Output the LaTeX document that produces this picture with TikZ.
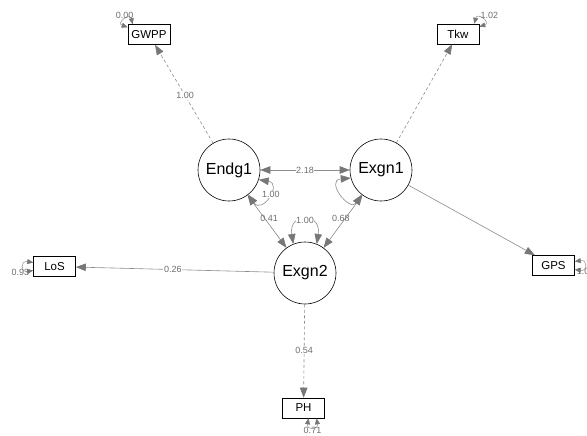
\documentclass[tikz,border=0pt]{standalone}
\usepackage{fontspec}
\setmainfont{Liberation Sans}
\usetikzlibrary{arrows.meta}
\definecolor{edgegray}{HTML}{8C8C8C}
\definecolor{tipgray}{HTML}{777777}
\definecolor{lblgray}{HTML}{6E6E6E}
\begin{document}
\begin{tikzpicture}[x=1pt,y=-1pt,
  latent/.style={circle,draw=black,line width=0.6pt,minimum size=62pt,inner sep=0pt,font=\fontsize{16}{18}\selectfont},
  manifest/.style={rectangle,draw=black,line width=0.6pt,minimum width=42pt,minimum height=20pt,inner sep=0pt,font=\fontsize{11.5}{13}\selectfont},
  pathline/.style={draw=edgegray,line width=0.6pt,-{Triangle[length=10pt,width=7.5pt,color=tipgray]}},
  twoway/.style={draw=edgegray,line width=0.6pt,{Triangle[length=10pt,width=7.5pt,color=tipgray]}-{Triangle[length=10pt,width=7.5pt,color=tipgray]}},
  dashedline/.style={dash pattern=on 3pt off 2.5pt},
  resid/.style={draw=edgegray,line width=0.5pt,{Triangle[length=6pt,width=5pt,color=tipgray]}-{Triangle[length=6pt,width=5pt,color=tipgray]}},
  lbl/.style={font=\fontsize{9}{10}\selectfont,text=lblgray,fill=white,inner sep=0.6pt},
  lblnf/.style={font=\fontsize{9}{10}\selectfont,text=lblgray,inner sep=0.6pt}]
\useasboundingbox (0,0) rectangle (587,436);
\clip (0,0) rectangle (587,436);
\fill[white] (0,0) rectangle (587,436);

% latent variables
\node[latent] (Endg1) at (229,170) {Endg1};
\node[latent] (Exgn1) at (381,170) {Exgn1};
\node[latent] (Exgn2) at (305,273) {Exgn2};

% manifest variables
\node[manifest] (GWPP) at (149,34.5) {GWPP};
\node[manifest] (Tkw) at (458,34) {Tkw};
\node[manifest] (LoS) at (54.5,266.5) {LoS};
\node[manifest] (GPS) at (553.5,265.5) {GPS};
\node[manifest] (PH) at (303.5,408) {PH};

% directed paths
\draw[pathline,dashedline] (Endg1) -- (GWPP) node[lbl,pos=0.48]{1.00};
\draw[pathline,dashedline] (Exgn1) -- (Tkw);
\draw[pathline] (Exgn1) -- (GPS);
\draw[pathline] (Exgn2) -- (LoS) node[lbl,pos=0.51]{0.26};
\draw[pathline,dashedline] (Exgn2) -- (PH) node[lbl,pos=0.49]{0.54};

% covariances
\draw[twoway] (Endg1) -- (Exgn1) node[lbl,midway]{2.18};
\draw[twoway] (Exgn2) -- (Endg1) node[lblnf,pos=0.55,xshift=4pt]{0.41};
\draw[twoway] (Exgn2) -- (Exgn1) node[lblnf,pos=0.55,xshift=-4pt]{0.68};

% variances of latents
\draw[twoway] (Exgn2.112) .. controls +(-5,-32) and +(5,-32) .. (Exgn2.68) node[lbl,midway]{1.00};
\draw[twoway] (Endg1.-18) .. controls +(24,4) and +(14,20) .. (Endg1.-52) node[lbl,pos=0.45,xshift=2pt]{1.00};
\draw[twoway] (Exgn1.195) .. controls +(-26,2) and +(-12,18) .. (Exgn1.232);

% residual variances
\draw[resid] ([yshift=-3pt]GWPP.north west) .. controls +(-12,-4) and +(-3,-12) .. ([xshift=5pt]GWPP.north west)
  node[lblnf,pos=0.5,anchor=south,inner sep=0pt,yshift=1pt]{0.00};
\draw[resid] ([xshift=-5pt]Tkw.north east) .. controls +(3,-12) and +(12,-4) .. ([yshift=-3pt]Tkw.north east)
  node[lblnf,pos=0.5,anchor=south west,inner sep=0pt,xshift=-2pt]{1.02};
\draw[resid] ([yshift=4pt]LoS.west) .. controls +(-13,-2) and +(-13,2) .. ([yshift=-4pt]LoS.west)
  node[lblnf,pos=0.5,anchor=north east,inner sep=0pt,xshift=6pt,yshift=-2pt]{0.93};
\draw[resid] ([yshift=4pt]GPS.east) .. controls +(13,-2) and +(13,2) .. ([yshift=-4pt]GPS.east)
  node[lblnf,pos=0.5,anchor=north west,inner sep=0pt,xshift=-8pt,yshift=-2pt]{1.00};
\draw[resid] ([xshift=5pt]PH.south) .. controls +(-2,12) and +(2,12) .. ([xshift=13pt]PH.south)
  node[lblnf,pos=0.5,anchor=north,inner sep=0pt,yshift=0pt]{0.71};
\end{tikzpicture}
\end{document}
